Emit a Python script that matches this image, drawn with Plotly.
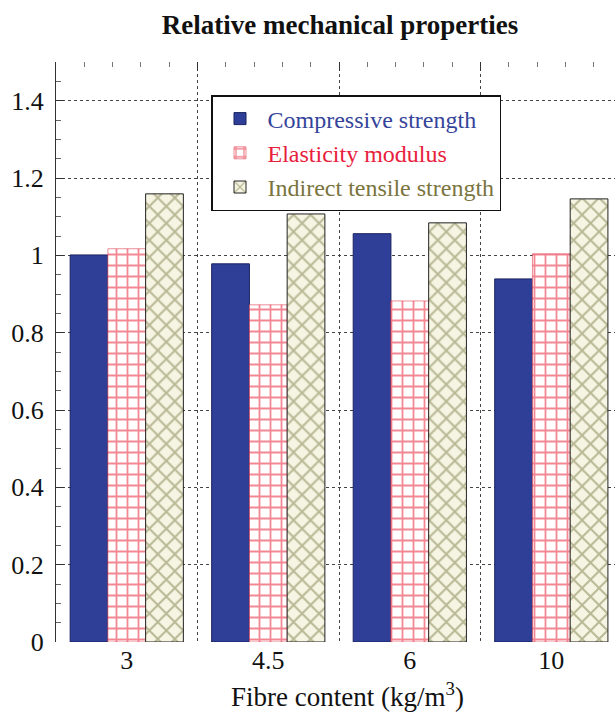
import plotly.graph_objects as go

categories = ["3", "4.5", "6", "10"]
compressive = [1.001, 0.978, 1.056, 0.939]
elasticity = [1.017, 0.872, 0.882, 1.004]
tensile = [1.159, 1.107, 1.084, 1.146]
y_ticks = [0, 0.2, 0.4, 0.6, 0.8, 1.0, 1.2, 1.4]
y_tick_text = ["0", "0.2", "0.4", "0.6", "0.8", "1", "1.2", "1.4"]
x_title = "Fibre content (kg/m<sup>3</sup>)"

xpos = list(range(len(categories)))
FONT = "Liberation Serif, Times New Roman, Times, serif"

fig = go.Figure()
fig.add_trace(go.Bar(
    x=xpos, y=compressive,
    name="<span style='color:#34449a'>Compressive strength</span>",
    marker=dict(color="#2f3f98", line=dict(color="#1a2260", width=1)),
))
fig.add_trace(go.Bar(
    x=xpos, y=elasticity,
    name="<span style='color:#e8203c'>Elasticity modulus</span>",
    marker=dict(color="white", line=dict(color="#e04050", width=0.6),
                pattern=dict(shape="+", fgcolor="#e8102a", bgcolor="white",
                             size=11, solidity=0.3, fillmode="overlay")),
))
fig.add_trace(go.Bar(
    x=xpos, y=tensile,
    name="<span style='color:#7a7440'>Indirect tensile strength</span>",
    marker=dict(color="#f6f4e2", line=dict(color="#222", width=1),
                pattern=dict(shape="x", fgcolor="#7c7c48", bgcolor="#f6f4e2",
                             size=12, solidity=0.3, fillmode="overlay")),
))

# invisible trace to activate the top axis
fig.add_trace(go.Scatter(x=[0], y=[0], xaxis="x2", mode="markers",
                         marker=dict(opacity=0), showlegend=False, hoverinfo="skip"))

xr = [-0.5, 3.45]
fig.update_layout(
    width=615, height=712,
    margin=dict(l=56, r=0, t=62, b=70),
    paper_bgcolor="white", plot_bgcolor="white",
    barmode="group", bargap=0.2, bargroupgap=0,
    font=dict(family=FONT, color="#111"),
    title=dict(text="<b>Relative mechanical properties</b>", x=340/615, xanchor="center",
               y=1 - 25/712, yanchor="middle", font=dict(size=27, family=FONT, color="#111")),
    xaxis=dict(range=xr, tickvals=xpos, ticktext=categories, showgrid=False,
               zeroline=False, showline=False, ticks="",
               tickfont=dict(size=26, family=FONT)),
    xaxis2=dict(range=xr, overlaying="x", side="top", tickvals=[0.5, 1.5, 2.5],
                showticklabels=False, ticks="inside", ticklen=9, tickcolor="#333",
                showgrid=True, griddash="dot", gridcolor="#444", gridwidth=1,
                zeroline=False, showline=False,
                minor=dict(tick0=0.5, dtick=0.2, ticks="inside", ticklen=5, tickcolor="#777")),
    yaxis=dict(range=[0, 1.5], tickvals=y_ticks, ticktext=y_tick_text,
               tickfont=dict(size=26, family=FONT), showline=True, linecolor="#333",
               linewidth=1, ticks="inside", ticklen=8, tickcolor="#333",
               showgrid=True, griddash="dot", gridcolor="#444", gridwidth=1,
               zeroline=False, ticklabelstandoff=6,
               minor=dict(dtick=0.05, ticks="inside", ticklen=5, tickcolor="#666")),
    legend=dict(x=(211 - 56) / 559, y=(642 - 95) / 580, xanchor="left", yanchor="top",
                bgcolor="white", bordercolor="#111", borderwidth=1.5,
                font=dict(size=24, family=FONT), tracegroupgap=0, itemwidth=45),
    showlegend=True,
    annotations=[dict(text=x_title, xref="paper", yref="paper",
                      x=(347 - 56) / 559, y=-(695 - 642) / 580,
                      xanchor="center", yanchor="middle", showarrow=False,
                      font=dict(size=27, family=FONT, color="#111"))],
)

fig.write_html("out.html")
